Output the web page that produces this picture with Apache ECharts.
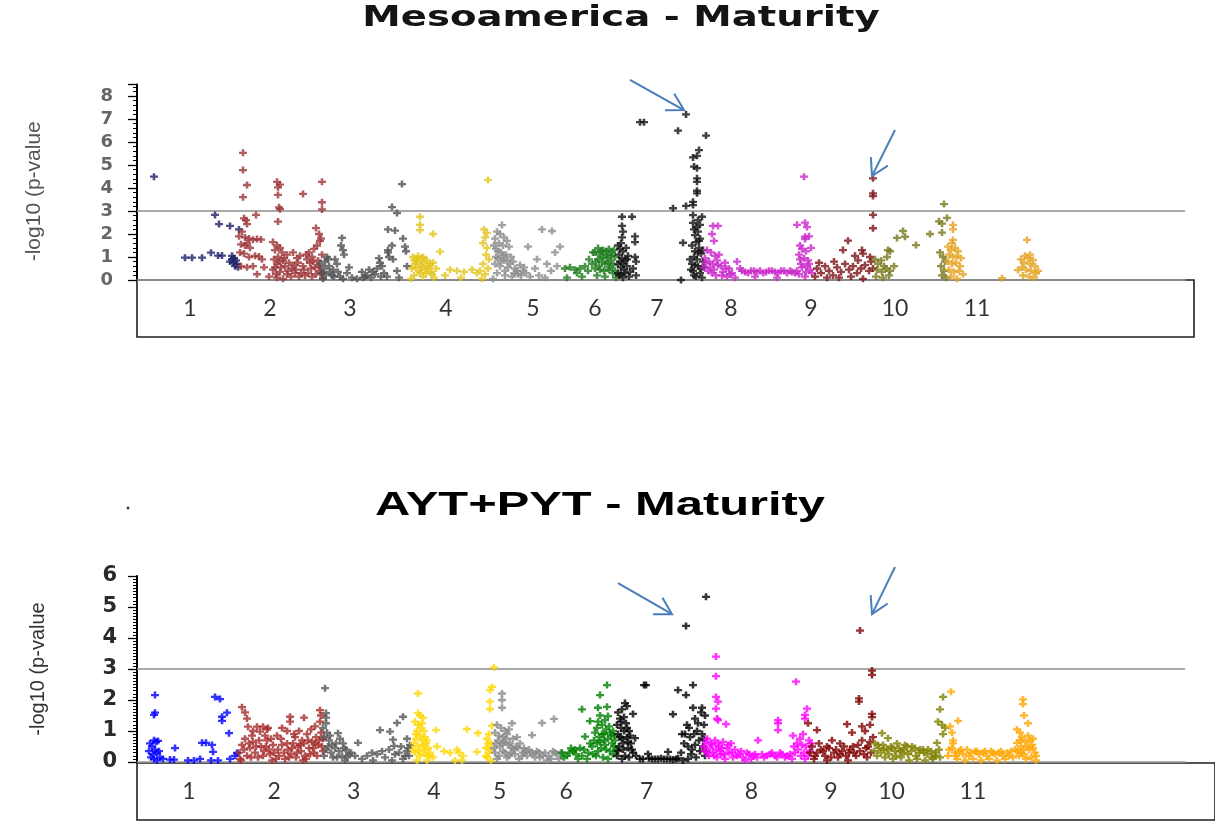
<!DOCTYPE html>
<html>
<head>
<meta charset="utf-8">
<title>Maturity GWAS</title>
<script src="https://cdn.jsdelivr.net/npm/echarts@6/dist/echarts.min.js"></script>
<style>
  html, body { margin: 0; padding: 0; background: #ffffff; }
  #chart { width: 1215px; height: 821px; }
</style>
</head>
<body>
<div id="chart"></div>
<script>
// Chromosome names and where each name sits under its block (genome position units)
const chromosomes = ['1', '2', '3', '4', '5', '6', '7', '8', '9', '10', '11'];
const mesoLabelPos = [53, 133, 213, 309, 396, 458, 520, 594, 674, 758, 840];
const aytLabelPos = [53, 140, 221, 303, 370, 438, 520, 627, 708, 770, 853];

// Y axis ticks
const mesoTicks = [0, 1, 2, 3, 4, 5, 6, 7, 8];
const aytTicks = [0, 1, 2, 3, 4, 5, 6];
const threshold = 3;

// Colours per chromosome
const mesoColors = ['#1f1f6b', '#9c3538', '#505050', '#e3c41c', '#8c8c8c', '#1a7a1a', '#111111', '#c928c9', '#7a1116', '#77771a', '#e5a21e'];
const aytColors = ['#0000ff', '#a52a2a', '#555555', '#ffd700', '#888888', '#008000', '#000000', '#ff00ff', '#800000', '#808000', '#ffa500'];

// Mesoamerica panel: [cumulative position, -log10(p)]
const meso1 = [[17,4.49],[78,2.83],[82,2.43],[93,2.35],[102,2.2],[48,0.97],[55,0.97],[65,0.97],[74,1.19],[81,1.06],[85,1.06],[95,1.05],[97,0.95],[99,0.85],[96,0.75],[100,0.7],[98,0.6],[101,0.55],[95,0.9],[93,0.8]];
const meso2 = [[106,5.53],[106,4.78],[110,4.13],[106,3.6],[107,2.68],[109,2.6],[110,2.43],[119,2.83],[140,4.27],[143,4.15],[141,4.03],[141,3.7],[142,3.16],[143,3.08],[141,2.54],[166,3.74],[185,4.27],[185,3.38],[185,3.07],[179,2.26],[182,2.0],[184,1.8],[183,1.7],
  [102,1.9],[105,2.1],[108,1.85],[112,1.8],[116,1.75],[120,1.78],[124,1.76],[104,1.55],[108,1.5],[110,1.6],[113,1.4],[103,1.2],[107,1.15],[112,1.0],[118,1.05],[122,1.02],[104,0.6],[110,0.55],[116,0.6],[120,0.25],[127,0.55],[125,0.9],
  [136,1.65],[140,1.5],[143,1.4],[138,1.3],[145,1.2],[150,1.1],[141,1.0],[137,0.9],[146,0.85],[152,0.75],[140,0.7],[148,0.6],[155,0.5],[136,0.45],[143,0.35],[150,0.25],[158,0.3],[162,0.15],[140,0.1],[166,0.6],[170,0.9],[172,1.2],[175,1.0],[177,1.35],[180,1.5],[173,0.75],[178,0.55],[183,0.4],[168,0.2],[175,0.15],[186,0.1],[181,0.85],[185,1.1],[160,0.95],[156,1.2],[163,1.05],[146,0.05],[132,0.15],
  [139,0.25],[144,0.55],[147,0.95],[151,0.4],[154,0.15],[157,0.65],[159,0.45],[161,0.75],[164,0.3],[167,0.45],[169,1.1],[171,0.3],[174,0.5],[176,0.8],[179,0.25],[182,0.6],[184,0.3],[138,0.55],[142,0.8]];
const meso3 = [[205,1.83],[204,1.5],[206,1.3],[207,1.1],[190,1.0],[188,0.8],[192,0.6],[196,0.45],[200,0.7],[185,0.3],[195,0.2],[203,0.15],[210,0.3],[215,0.1],[220,0.05],[226,0.1],[230,0.2],[232,0.45],[236,0.35],[240,0.5],[243,0.75],[242,0.95],[245,0.6],[247,0.3],[250,0.15],[252,1.0],[251,1.2],[255,1.5],[251,1.3],[265,4.17],[255,3.17],[260,2.91],[251,2.2],[258,2.15],[256,0.9],[260,0.4],[262,0.1],[266,1.8],[268,1.45],[269,1.25],[270,0.6],[198,0.9],[212,0.55],[186,0.05],[225,0.35],
  [183,0.7],[187,0.5],[189,0.25],[191,0.9],[193,0.35],[197,0.15],[201,0.35],[206,0.05],[228,0.15],[234,0.1],[238,0.25],[244,0.15]];
const meso4 = [[283,2.75],[283,2.4],[283,2.17],[296,2.0],[303,1.23],[276,1.0],[280,0.9],[285,0.95],[290,0.85],[278,0.7],[284,0.65],[292,0.6],[296,0.75],[275,0.5],[282,0.4],[288,0.45],[294,0.35],[299,0.5],[277,0.2],[286,0.15],[297,0.1],[274,0.05],[313,0.45],[320,0.4],[327,0.35],[335,0.45],[340,0.3],[308,0.2],[324,0.1],[351,4.35],[347,2.2],[350,2.05],[348,1.85],[346,1.6],[350,1.4],[349,1.1],[352,0.9],[346,0.7],[351,0.5],[348,0.25],[345,0.05],[343,0.4],
  [277,0.85],[279,0.55],[281,0.8],[283,0.3],[285,0.55],[287,0.75],[289,0.3],[291,0.5],[293,0.7],[295,0.25],[286,1.0],[281,1.05]];
const meso5 = [[365,2.39],[360,2.1],[363,2.0],[367,1.85],[358,1.8],[370,1.7],[362,1.6],[366,1.5],[372,1.45],[359,1.35],[364,1.2],[369,1.1],[374,1.0],[361,0.95],[367,0.85],[376,0.8],[358,0.7],[363,0.6],[371,0.55],[378,0.5],[383,0.65],[386,0.4],[360,0.3],[368,0.2],[375,0.15],[381,0.25],[389,0.3],[393,0.15],[398,0.5],[402,0.2],[391,1.45],[405,2.2],[415,2.13],[418,1.2],[423,1.45],[410,0.7],[414,0.4],[420,0.6],[408,0.1],[400,0.9],[356,0.05],
  [357,1.5],[359,1.0],[361,1.25],[364,0.8],[366,1.05],[368,0.4],[370,0.85],[373,0.7],[377,0.3],[380,0.4],[384,0.2],[387,0.55]];
const meso6 = [[428,0.5],[433,0.55],[438,0.45],[443,0.5],[448,0.6],[451,0.4],[455,0.7],[458,0.5],[461,1.39],[458,1.2],[463,1.1],[466,1.3],[469,1.25],[472,1.35],[475,1.2],[477,1.3],[461,0.9],[465,0.8],[470,0.95],[474,0.85],[478,1.0],[462,0.6],[467,0.4],[473,0.55],[476,0.3],[460,0.2],[468,0.15],[479,0.1],[445,0.15],[430,0.1],[452,0.9],[456,1.2],[440,0.3],
  [459,0.8],[463,0.45],[466,1.0],[468,0.7],[470,1.1],[472,0.45],[474,1.05],[476,0.65],[478,0.4],[464,1.25],[471,0.75]];
const meso7 = [[485,2.75],[495,2.75],[485,2.35],[486,2.1],[485,1.85],[484,1.6],[498,1.9],[498,1.65],[498,1.0],[499,0.8],[481,1.5],[483,1.35],[486,1.25],[489,1.4],[482,1.1],[485,0.95],[488,0.85],[491,1.05],[481,0.7],[484,0.55],[487,0.45],[490,0.6],[493,0.35],[496,0.5],[482,0.2],[486,0.1],[492,0.15],[499,0.2],
  [503,6.86],[507,6.86],[536,3.12],[541,6.49],[549,7.2],[569,6.28],[562,5.65],[556,5.33],[560,5.4],[557,4.93],[560,4.86],[560,4.42],[560,4.27],[560,3.88],[560,3.77],[556,3.4],[556,3.26],[549,3.22],[556,2.82],[565,2.75],[556,2.48],[563,2.4],[557,2.2],[561,2.1],[558,1.95],[563,1.8],[559,1.65],[555,1.5],[562,1.4],[558,1.25],[564,1.15],[557,1.0],[560,0.9],[566,0.8],[555,0.7],[561,0.6],[567,0.55],[556,0.4],[563,0.3],[559,0.15],[565,0.1],[546,1.62],[544,0.0],[553,0.9],[554,0.45],
  [481,0.3],[483,0.8],[484,0.25],[486,0.7],[488,0.3],[490,0.9],[557,0.2],[558,0.65],[561,1.2],[562,1.7],[564,0.5],[559,2.3],[561,2.6],[566,1.3]];
const meso8 = [[576,2.35],[581,2.35],[575,2.0],[577,1.7],[570,1.3],[574,1.2],[578,1.05],[582,1.1],[568,0.95],[572,0.8],[576,0.7],[580,0.85],[584,0.6],[588,0.75],[592,0.5],[567,0.55],[571,0.4],[575,0.3],[579,0.2],[586,0.35],[590,0.15],[595,0.3],[600,0.8],[603,0.5],[608,0.35],[614,0.4],[620,0.35],[626,0.3],[632,0.4],[638,0.35],[644,0.4],[650,0.3],[655,0.35],[598,0.1],[618,0.15],[640,0.1],[660,0.4],[660,2.4],[668,2.49],[668,1.88],[668,1.78],[663,1.5],[665,1.35],[669,1.25],[662,1.1],[667,0.95],[671,0.85],[664,0.7],[670,0.6],[673,0.45],[662,0.25],[668,0.15],[675,0.3],[667,4.49],[670,2.3],[672,1.9],[674,1.4],
  [569,0.75],[573,0.55],[577,0.45],[581,0.65],[585,0.2],[589,0.5],[593,0.25],[605,0.4],[611,0.3],[617,0.4],[623,0.4],[629,0.35],[635,0.4],[641,0.3],[647,0.4],[653,0.4],[658,0.3],[663,0.9],[665,0.55],[669,0.35],[672,0.7]];
const meso9 = [[711,1.71],[706,1.3],[725,1.3],[726,1.15],[721,0.85],[733,1.0],[680,0.5],[684,0.3],[688,0.6],[692,0.4],[696,0.2],[700,0.55],[704,0.35],[708,0.7],[712,0.45],[716,0.6],[720,0.3],[724,0.5],[728,0.65],[732,0.4],[678,0.15],[690,0.1],[702,0.1],[714,0.15],[726,0.05],[736,4.42],[736,3.77],[736,3.65],[736,2.83],[736,2.25],[734,0.8],[736,0.5],[682,0.75],[697,0.8],[718,1.05]];
const meso10 = [[738,0.9],[741,0.7],[744,0.85],[747,0.6],[750,1.0],[740,0.45],[745,0.35],[749,0.5],[753,0.4],[739,0.15],[746,0.1],[752,0.2],[751,1.3],[753,1.25],[760,1.83],[766,2.13],[768,1.88],[779,1.52],[793,2.0],[805,2.06],[802,2.55],[805,2.45],[810,2.7],[807,3.3],[803,1.2],[806,1.0],[808,0.8],[804,0.6],[807,0.4],[805,0.2],[809,0.1],[757,0.6]];
const meso11 = [[816,2.4],[816,2.2],[816,1.74],[815,1.6],[811,1.45],[814,1.3],[818,1.4],[821,1.25],[812,1.1],[816,1.0],[820,1.05],[824,0.95],[811,0.8],[815,0.7],[819,0.75],[823,0.6],[812,0.45],[817,0.35],[822,0.4],[826,0.25],[814,0.15],[820,0.05],[865,0.08],[881,0.43],[890,1.74],[891,0.95],[896,0.87],[884,0.9],[887,0.75],[893,0.7],[898,0.6],[885,0.55],[889,0.45],[894,0.4],[899,0.3],[886,0.2],[892,0.15],[897,0.1],[901,0.4],[888,1.05],[893,1.1]];

// AYT+PYT panel: [cumulative position, -log10(p)]
const ayt1 = [[18,2.16],[18,1.59],[17,1.52],[17,0.7],[19,0.65],[21,0.68],[12,0.35],[15,0.5],[18,0.4],[20,0.3],[22,0.35],[14,0.15],[17,0.1],[20,0.05],[23,0.15],[26,0.1],[38,0.45],[33,0.08],[37,0.08],[51,0.05],[57,0.05],[63,0.1],[65,0.62],[69,0.62],[75,0.55],[76,0.33],[74,0.05],[81,0.05],[78,2.1],[83,2.03],[85,1.46],[85,1.33],[90,1.59],[92,0.93],[93,0.1],[100,0.29],[13,0.6],[16,0.25],[98,0.2]];
const ayt2 = [[105,1.77],[108,1.6],[110,1.4],[111,1.14],[120,1.14],[126,1.14],[116,1.0],[123,0.98],[130,1.05],[131,1.1],[153,1.46],[153,1.3],[167,1.43],[183,1.67],[184,1.5],[183,1.3],[145,1.1],[150,1.0],
  [102,0.3],[105,0.55],[108,0.75],[110,0.2],[113,0.45],[116,0.65],[118,0.3],[121,0.15],[124,0.5],[127,0.35],[130,0.7],[133,0.25],[136,0.55],[139,0.1],[141,0.4],[144,0.75],[147,0.3],[150,0.6],[152,0.15],[155,0.45],[158,0.8],[160,0.3],[163,0.55],[165,0.7],[168,0.2],[170,0.9],[172,0.45],[175,0.65],[177,0.3],[179,0.8],[181,0.55],[184,0.95],[186,0.35],[162,1.0],[174,1.05],[178,1.15],[157,0.9],[140,0.85],[128,0.85],[115,0.85],[104,0.05],[135,0.05],[166,0.05],
  [103,0.1],[107,0.4],[112,0.6],[114,0.15],[119,0.5],[122,0.7],[126,0.2],[129,0.5],[132,0.4],[134,0.75],[137,0.3],[142,0.2],[145,0.55],[148,0.1],[151,0.4],[154,0.25],[156,0.6],[159,0.15],[161,0.5],[164,0.35],[167,0.6],[169,0.1],[171,0.7],[173,0.25],[176,0.45],[178,0.6],[180,0.2],[182,0.7],[185,0.5],[186,0.75]];
const ayt3 = [[188,2.38],[189,1.58],[189,1.43],[189,1.25],[186,1.1],[190,0.95],[187,0.8],[192,0.7],[195,0.55],[189,0.4],[194,0.3],[198,0.45],[201,0.93],[203,0.75],[206,0.6],[209,0.4],[212,0.25],[200,0.15],[208,0.05],[221,0.62],[218,0.2],[225,0.1],[230,0.2],[235,0.3],[240,0.25],[245,0.35],[248,0.15],[243,1.03],[253,0.98],[260,1.26],[266,1.46],[256,0.72],[257,0.52],[252,0.4],[262,0.3],[266,0.1],[270,0.35],[271,0.45],[272,0.2],[255,0.05],[270,0.75],[273,0.55],[236,0.05],
  [187,0.2],[191,0.5],[193,0.85],[196,0.15],[199,0.6],[202,0.35],[205,0.2],[207,0.45],[210,0.15],[214,0.3],[258,0.25],[264,0.5],[268,0.2]];
const ayt4 = [[281,2.21],[281,1.58],[283,1.5],[286,1.42],[278,1.3],[281,1.2],[284,1.1],[287,1.0],[279,0.9],[283,0.85],[288,0.8],[290,0.7],[277,0.6],[281,0.5],[286,0.55],[291,0.45],[278,0.3],[283,0.2],[288,0.25],[293,0.3],[296,0.15],[280,0.05],[290,0.05],[299,1.03],[300,0.5],[307,0.35],[313,0.3],[320,0.4],[322,0.3],[326,0.2],[330,1.06],[341,0.93],[340,0.33],[318,0.05],[325,0.05],[353,2.32],[355,2.42],[353,1.95],[353,1.71],[355,1.17],[352,0.9],[350,0.75],[354,0.6],[349,0.45],[352,0.3],[350,0.15],[354,0.05],[357,3.05],
  [279,0.75],[282,0.35],[285,0.7],[287,0.4],[289,0.6],[292,0.2],[276,0.4],[280,1.0],[285,1.25],[351,0.6],[353,0.4],[349,0.2]];
const ayt5 = [[365,2.21],[365,2.0],[365,1.75],[375,1.25],[360,1.2],[364,1.1],[368,1.0],[372,1.05],[358,0.95],[362,0.85],[366,0.8],[370,0.9],[376,0.75],[380,0.8],[359,0.6],[363,0.5],[367,0.65],[371,0.55],[375,0.45],[379,0.5],[383,0.6],[387,0.45],[358,0.3],[362,0.2],[366,0.35],[370,0.15],[374,0.3],[378,0.25],[382,0.1],[386,0.3],[390,0.2],[395,0.87],[392,0.4],[396,0.25],[400,0.35],[405,1.26],[417,1.39],[403,0.15],[408,0.3],[412,0.2],[416,0.35],[420,0.25],[424,0.3],[410,0.05],[422,0.1],
  [357,0.45],[361,0.7],[365,0.6],[369,0.75],[373,0.6],[377,0.4],[381,0.45],[385,0.2],[360,0.1],[368,0.3],[372,0.2],[388,0.35],[394,0.3],[398,0.15],[402,0.3],[406,0.2],[414,0.1],[418,0.3]];
const ayt6 = [[445,1.7],[453,1.32],[448,0.82],[463,2.16],[470,2.48],[461,1.75],[470,1.78],[463,1.5],[471,1.48],[436,0.35],[443,0.45],[425,0.3],[430,0.2],[434,0.45],[439,0.25],[447,0.4],[451,0.3],[455,0.5],[458,0.95],[460,1.1],[462,0.8],[465,1.2],[467,0.9],[469,1.05],[472,1.15],[474,0.85],[476,1.0],[478,0.7],[460,0.6],[464,0.45],[468,0.55],[473,0.35],[477,0.5],[459,0.2],[466,0.15],[471,0.1],[476,0.25],[450,0.1],[441,0.1],[427,0.15],
  [461,0.35],[463,0.65],[465,0.9],[467,0.7],[469,0.4],[471,0.75],[473,0.95],[475,0.6],[477,0.85],[479,0.4],[461,1.3],[468,1.35],[457,0.7],[453,0.6],[432,0.3],[438,0.4],[445,0.2],[456,0.25]];
const ayt7 = [[488,1.9],[490,1.8],[485,1.7],[496,1.55],[498,0.77],[481,1.6],[483,1.4],[487,1.45],[480,1.2],[484,1.1],[489,1.25],[492,1.0],[481,0.9],[485,0.75],[490,0.8],[494,0.6],[482,0.5],[486,0.4],[491,0.45],[496,0.3],[480,0.2],[485,0.1],[492,0.15],[499,0.2],[503,0.1],[507,2.48],[509,2.48],[511,0.26],[506,0.1],[512,0.12],[518,0.1],[524,0.12],[530,0.1],[536,0.08],[531,0.33],[536,1.54],[541,2.32],[549,2.16],[556,2.48],[549,4.39],[569,5.33],[556,1.75],[565,1.75],[545,0.9],[547,0.6],[544,0.3],[550,1.2],[553,0.8],[555,0.4],[558,1.4],[560,1.0],[562,0.7],[564,1.6],[566,0.5],[567,1.2],[568,0.2],[551,0.1],[546,0.05],[559,0.15],[541,0.12],
  [481,0.35],[483,0.8],[484,1.3],[486,0.6],[487,1.0],[488,0.2],[490,1.1],[491,0.65],[493,0.85],[495,0.4],[548,0.9],[551,0.5],[552,1.1],[554,0.25],[557,0.9],[558,0.55],[561,1.25],[563,0.35],[565,0.9],[567,0.75],[568,1.5],[569,0.35],[515,0.1],[521,0.1],[527,0.1],[533,0.1],[539,0.1]];
const ayt8 = [[579,3.4],[579,2.77],[579,2.1],[581,1.95],[579,1.72],[580,1.4],[581,1.35],[589,1.22],[570,0.75],[574,0.6],[578,0.7],[582,0.5],[586,0.65],[590,0.45],[594,0.6],[598,0.4],[568,0.35],[572,0.2],[576,0.3],[580,0.15],[584,0.25],[588,0.1],[592,0.3],[596,0.15],[600,0.2],[604,0.35],[608,0.05],[621,0.7],[612,0.25],[616,0.2],[620,0.15],[625,0.25],[630,0.2],[635,0.3],[640,0.15],[645,0.25],[650,0.2],[641,1.35],[641,1.25],[641,1.03],[659,2.59],[670,1.72],[668,1.52],[668,1.4],[656,0.85],[660,0.6],[663,0.75],[666,0.9],[669,0.5],[672,0.7],[658,0.3],[664,0.2],[668,0.1],[673,0.35],[655,0.1],
  [567,0.5],[569,0.65],[571,0.3],[573,0.45],[575,0.55],[577,0.2],[579,0.4],[581,0.6],[583,0.35],[585,0.45],[587,0.25],[591,0.55],[595,0.3],[602,0.25],[606,0.15],[610,0.3],[614,0.1],[618,0.25],[627,0.15],[633,0.25],[638,0.2],[643,0.3],[648,0.15],[653,0.25],[657,0.5],[661,0.4],[665,0.55],[667,0.3],[671,0.2],[674,0.6]];
const ayt9 = [[723,4.24],[735,2.95],[735,2.81],[722,2.05],[722,1.95],[735,1.55],[735,1.45],[710,1.22],[725,1.15],[733,1.2],[680,1.03],[671,1.25],[715,0.95],[728,1.0],[695,0.7],[703,0.6],[675,0.5],[680,0.3],[684,0.4],[688,0.2],[692,0.45],[697,0.3],[701,0.15],[705,0.35],[709,0.2],[713,0.4],[717,0.3],[721,0.55],[725,0.7],[729,0.45],[733,0.65],[736,0.8],[677,0.1],[690,0.05],[711,0.05],[730,0.15],
  [673,0.3],[678,0.2],[682,0.6],[686,0.35],[690,0.5],[694,0.15],[699,0.4],[703,0.25],[707,0.5],[712,0.3],[716,0.5],[719,0.2],[723,0.35],[727,0.25],[731,0.5],[734,0.3]];
const ayt10 = [[745,0.93],[751,0.77],[738,0.6],[742,0.45],[746,0.55],[750,0.4],[754,0.5],[758,0.35],[762,0.45],[766,0.3],[770,0.5],[774,0.35],[778,0.45],[782,0.3],[786,0.4],[790,0.25],[794,0.35],[798,0.2],[740,0.2],[748,0.15],[756,0.1],[764,0.15],[772,0.05],[780,0.1],[788,0.05],[796,0.1],[803,0.15],[806,2.1],[803,1.7],[801,1.3],[805,1.2],[808,1.1],[806,0.9],[800,0.62],[760,0.6],[768,0.55],
  [737,0.35],[741,0.55],[744,0.3],[747,0.4],[752,0.25],[755,0.45],[759,0.2],[763,0.35],[767,0.4],[771,0.25],[775,0.5],[779,0.2],[783,0.4],[787,0.3],[791,0.4],[795,0.15],[799,0.3],[802,0.4]];
const ayt11 = [[814,2.27],[821,1.33],[813,1.15],[815,0.95],[816,0.7],[816,0.6],[812,0.4],[818,0.3],[822,0.35],[826,0.25],[830,0.4],[834,0.3],[838,0.35],[842,0.25],[846,0.3],[850,0.2],[854,0.35],[858,0.25],[862,0.3],[866,0.2],[870,0.3],[874,0.35],[878,0.4],[820,0.1],[828,0.05],[836,0.1],[844,0.05],[852,0.1],[860,0.05],[868,0.1],[876,0.15],[886,2.02],[886,1.87],[887,1.5],[891,1.25],[880,1.05],[883,0.95],[896,0.75],[880,0.62],[884,0.5],[888,0.65],[892,0.4],[895,0.55],[898,0.3],[882,0.2],[889,0.1],[894,0.15],[899,0.05],[885,0.8],
  [811,0.2],[815,0.45],[819,0.2],[824,0.4],[832,0.2],[840,0.35],[848,0.35],[856,0.3],[864,0.35],[872,0.2],[880,0.35],[884,0.3],[887,0.25],[890,0.5],[893,0.7],[896,0.45],[899,0.2],[883,0.7],[886,0.4],[891,0.85]];

// Annotation arrows: [tailX, tailY, tipX, tipY] in data units
const mesoArrows = [[493, 8.70, 547, 7.39], [758, 6.52, 735, 4.52]];
const aytArrows = [[481, 5.77, 535, 4.77], [758, 6.29, 735, 4.77]];

const mesoSeries = [meso1, meso2, meso3, meso4, meso5, meso6, meso7, meso8, meso9, meso10, meso11];
const aytSeries = [ayt1, ayt2, ayt3, ayt4, ayt5, ayt6, ayt7, ayt8, ayt9, ayt10, ayt11];

// Bold plus marker
const plusSymbol = 'path://M2.7,0h2.6v2.7h2.7v2.6h-2.7v2.7h-2.6v-2.7h-2.7v-2.6h2.7z';
const xSpan = 1048;

function markerSeries(list, colors, axisIndex) {
  return list.map(function (pts, i) {
    const s = {
      type: 'scatter',
      name: 'Chr ' + chromosomes[i],
      xAxisIndex: axisIndex,
      yAxisIndex: axisIndex,
      data: pts,
      symbol: plusSymbol,
      symbolSize: [8, 7],
      itemStyle: { color: colors[i] },
      silent: true,
      z: 3
    };
    if (i === 0) {
      s.markLine = {
        silent: true,
        symbol: 'none',
        label: { show: false },
        lineStyle: { color: '#8d8d8d', width: 1.6, type: 'solid' },
        data: [{ yAxis: threshold }],
        z: 1
      };
    }
    return s;
  });
}

function labelSeries(positions, axisIndex, yPos) {
  return {
    type: 'scatter',
    xAxisIndex: axisIndex,
    yAxisIndex: axisIndex,
    data: positions.map(function (x) { return [x, yPos]; }),
    symbolSize: 1,
    itemStyle: { color: 'transparent' },
    silent: true,
    label: {
      show: true,
      position: 'inside',
      formatter: function (p) { return chromosomes[p.dataIndex]; },
      fontFamily: 'Lato',
      fontSize: 23,
      color: '#000000'
    }
  };
}

function valueYAxis(gridIndex, maxVal, labelFont, labelColor, labelMargin, minorSplit, nameText, nameColor, nameSize, nameGap, namePadding) {
  return {
    type: 'value',
    gridIndex: gridIndex,
    min: 0,
    max: maxVal,
    interval: 1,
    axisLine: { show: true, lineStyle: { color: '#000000', width: 2 } },
    axisTick: { show: true, length: 9, lineStyle: { color: '#000000', width: 1.3 } },
    minorTick: { show: true, splitNumber: minorSplit, length: 4, lineStyle: { color: '#000000', width: 1 } },
    splitLine: { show: false },
    axisLabel: {
      show: true,
      margin: labelMargin,
      showMaxLabel: maxVal % 1 === 0,
      fontFamily: 'DejaVu Sans',
      fontWeight: 'bold',
      fontSize: labelFont,
      color: labelColor
    },
    name: nameText,
    nameLocation: 'middle',
    nameRotate: 90,
    nameGap: nameGap,
    nameTextStyle: {
      fontFamily: 'Liberation Sans',
      fontSize: nameSize,
      color: nameColor,
      padding: namePadding
    }
  };
}

function hiddenAxis(gridIndex, maxVal) {
  return { type: 'value', gridIndex: gridIndex, min: 0, max: maxVal, show: false };
}

const chart = echarts.init(document.getElementById('chart'), null, { renderer: 'canvas' });

chart.setOption({
  animation: false,
  backgroundColor: '#ffffff',
  grid: [
    { left: 137, top: 84.5, width: xSpan, height: 195.5 },
    { left: 137, top: 280, width: 1057, height: 57, show: true, borderColor: '#1e1e1e', borderWidth: 1.6, backgroundColor: 'transparent' },
    { left: 137, top: 576, width: xSpan, height: 186 },
    { left: 137, top: 763, width: 1100, height: 57, show: true, borderColor: '#1e1e1e', borderWidth: 1.6, backgroundColor: 'transparent' }
  ],
  xAxis: [
    {
      type: 'value', gridIndex: 0, min: 0, max: xSpan,
      axisLine: { show: true, lineStyle: { color: '#9a9a9a', width: 1.5 } },
      axisTick: { show: false }, axisLabel: { show: false }, splitLine: { show: false }
    },
    hiddenAxis(1, 1057),
    {
      type: 'value', gridIndex: 2, min: 0, max: xSpan,
      axisLine: { show: true, lineStyle: { color: '#9a9a9a', width: 1.5 } },
      axisTick: { show: false }, axisLabel: { show: false }, splitLine: { show: false }
    },
    hiddenAxis(3, 1100)
  ],
  yAxis: [
    valueYAxis(0, 8.5, 18, '#666666', 24, 5, '-log10 (p-value', '#555555', 21, 92, [0, 18, 0, 0]),
    hiddenAxis(1, 1),
    valueYAxis(2, 6, 21, '#2a2a2a', 20, 10, '-log10 (p-value', '#333333', 20, 89, [0, 0, 0, 0]),
    hiddenAxis(3, 1)
  ],
  series: []
    .concat(markerSeries(mesoSeries, mesoColors, 0))
    .concat([labelSeries(mesoLabelPos, 1, 0.5)])
    .concat(markerSeries(aytSeries, aytColors, 2))
    .concat([labelSeries(aytLabelPos, 3, 0.5)])
});

// Arrows are placed through the axis scales of their panel
function arrowElements(arrows, gridIndex) {
  const out = [];
  arrows.forEach(function (a) {
    const p0 = chart.convertToPixel({ gridIndex: gridIndex }, [a[0], a[1]]);
    const p1 = chart.convertToPixel({ gridIndex: gridIndex }, [a[2], a[3]]);
    const ang = Math.atan2(p1[1] - p0[1], p1[0] - p0[0]);
    const len = 19, spread = Math.PI / 6;
    const w1 = [p1[0] - len * Math.cos(ang - spread), p1[1] - len * Math.sin(ang - spread)];
    const w2 = [p1[0] - len * Math.cos(ang + spread), p1[1] - len * Math.sin(ang + spread)];
    out.push({
      type: 'line', silent: true, z: 10,
      shape: { x1: p0[0], y1: p0[1], x2: p1[0], y2: p1[1] },
      style: { stroke: '#4a7ebb', lineWidth: 2 }
    });
    out.push({
      type: 'polyline', silent: true, z: 10,
      shape: { points: [w1, p1, w2] },
      style: { stroke: '#4a7ebb', lineWidth: 2, fill: null }
    });
  });
  return out;
}

const titleElements = [
  {
    type: 'text', x: 621, y: 19, scaleX: 1.38, silent: true, z: 10,
    style: {
      text: 'Mesoamerica - Maturity', x: 0, y: 0,
      align: 'center', verticalAlign: 'middle',
      font: 'bold 28px "DejaVu Sans"', fill: '#141414'
    }
  },
  {
    type: 'text', x: 600, y: 506, scaleX: 1.48, silent: true, z: 10,
    style: {
      text: 'AYT+PYT - Maturity', x: 0, y: 0,
      align: 'center', verticalAlign: 'middle',
      font: 'bold 33px "Liberation Sans"', fill: '#000000'
    }
  },
  {
    type: 'circle', silent: true, z: 10,
    shape: { cx: 128, cy: 508, r: 1.4 },
    style: { fill: '#333333' }
  }
];

chart.setOption({
  graphic: titleElements
    .concat(arrowElements(mesoArrows, 0))
    .concat(arrowElements(aytArrows, 2))
});
</script>
</body>
</html>
